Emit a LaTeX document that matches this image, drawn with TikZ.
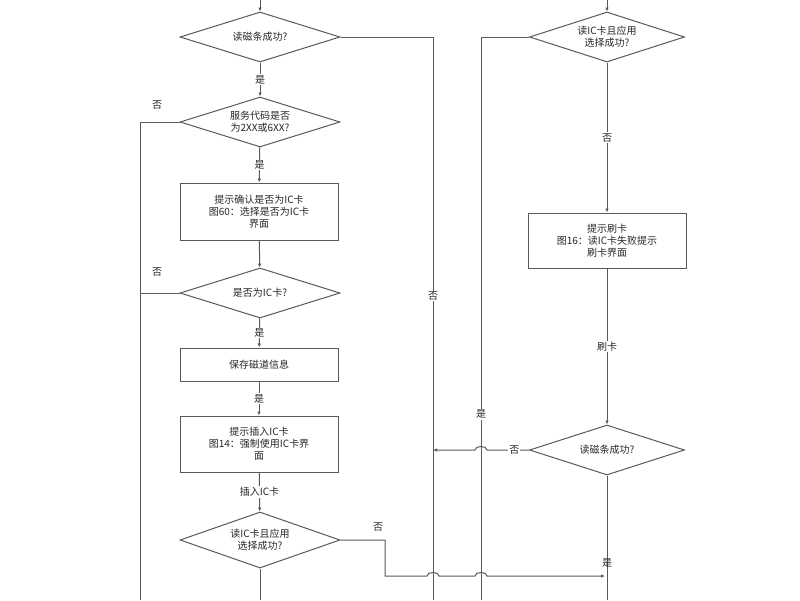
\documentclass[tikz,border=0pt]{standalone}
\usepackage{fontspec}
\newfontfamily\cjk{Noto Sans CJK SC}
\usetikzlibrary{shapes.geometric,arrows.meta}
\begin{document}
\begin{tikzpicture}[x=1pt,y=-1pt,
  every node/.style={font=\cjk\fontsize{10}{12}\selectfont,text=black!85},
  dia/.style={draw=black!65,line width=1pt,diamond,aspect=3.1,minimum width=160pt,minimum height=50pt,inner sep=0pt,align=center},
  box/.style={draw=black!65,line width=1pt,rectangle,minimum width=158pt,align=center,inner sep=1pt},
  ln/.style={draw=black!65,line width=1pt},
  ar/.style={ln,-{Latex[length=4pt,width=3.5pt]}},
  lab/.style={fill=white,inner sep=1pt}]
\useasboundingbox (0,0) rectangle (800,600);
\coordinate (t1) at (260,0);
\coordinate (t2) at (607,0);
\node[dia] (d1) at (260,37) {读磁条成功?};
\node[dia] (d2) at (260,122) {服务代码是否\\为2XX或6XX?};
\node[box,minimum height=57pt] (b3) at (259,211.5) {提示确认是否为IC卡\\图60：选择是否为IC卡\\界面};
\node[dia] (d4) at (260,293) {是否为IC卡?};
\node[box,minimum height=33pt] (b5) at (259,364.5) {保存磁道信息};
\node[box,minimum height=56pt] (b6) at (259,444) {提示插入IC卡\\图14：强制使用IC卡界\\面};
\node[dia,minimum height=56pt] (d7) at (260,540) {读IC卡且应用\\选择成功?};
\node[dia,minimum width=155pt] (d8) at (607,37) {读IC卡且应用\\选择成功?};
\node[box,minimum height=55pt] (b9) at (607,240.5) {提示刷卡\\图16：读IC卡失败提示\\刷卡界面};
\node[dia,minimum width=155pt] (d10) at (607,450) {读磁条成功?};
\coordinate (bL) at (140,600);
\coordinate (bA) at (433,600);
\coordinate (bB) at (481,600);
\coordinate (bC) at (607,600);
\coordinate (bM) at (260,600);
\coordinate (j1) at (605,576);
% left column
\draw[ar] (t1) -- (d1);
\draw[ar] (d1) -- node[lab]{是} (d2);
\draw[ar] (d2) -- node[lab]{是} (b3);
\draw[ar] (b3) -- (d4);
\draw[ar] (d4) -- node[lab]{是} (b5);
\draw[ar] (b5) -- node[lab]{是} (b6);
\draw[ar] (b6) -- node[lab]{插入IC卡} (d7);
\draw[ln] (d7) -- (bM);
\draw[ln] (d2.west) -- (140,122) -- (bL);
\draw[ln] (d4.west) -- (140,293);
\node at (157,105) {否};
\node at (157,272) {否};
% right branch of d1
\draw[ln] (d1.east) -- (433,37) -- node[lab,pos=0.46]{否} (bA);
% right column
\draw[ar] (t2) -- (d8);
\draw[ar] (d8) -- node[lab]{否} (b9);
\draw[ar] (b9) -- node[lab]{刷卡} (d10);
\draw[ln] (d10) -- (bC);
\node at (607,563) {是};
\draw[ln] (d8.west) -- (481,37) -- node[lab,pos=0.67]{是} (bB);
\draw[ar] (d10.west) -- node[lab,pos=0.35]{否} (487,450) to[out=90,in=90] (475,450) -- (433,450);
% d7 no branch
\draw[ar] (d7.east) -- (385,540) -- (385,576) -- (427,576) to[out=90,in=90] (439,576) -- (475,576) to[out=90,in=90] (487,576) -- (j1);
\node at (378,527) {否};
\end{tikzpicture}
\end{document}
